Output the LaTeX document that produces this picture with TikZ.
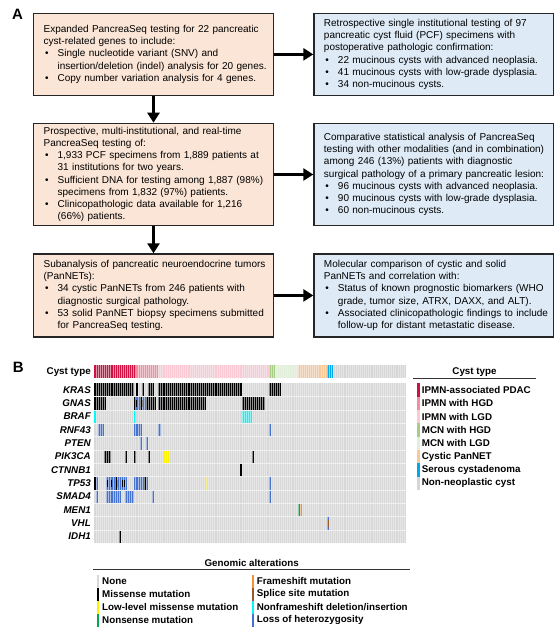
\documentclass[tikz,border=0pt]{standalone}
\usepackage{fontspec}
\setmainfont{Liberation Sans}
\usepackage{tikz}
\usetikzlibrary{arrows.meta,positioning}

\definecolor{boxorange}{RGB}{251,229,214}
\definecolor{boxblue}{RGB}{222,235,247}
\definecolor{pdac}{RGB}{206,17,65}
\definecolor{ipmnhgd}{RGB}{244,140,162}
\definecolor{ipmnlgd}{RGB}{251,202,212}
\definecolor{mcnhgd}{RGB}{166,206,134}
\definecolor{mcnlgd}{RGB}{226,239,218}
\definecolor{pannet}{RGB}{250,200,152}
\definecolor{serous}{RGB}{0,169,236}
\definecolor{nonneo}{RGB}{214,214,214}
\definecolor{cellgrey}{RGB}{216,216,216}
\definecolor{sepline}{RGB}{240,240,240}
\definecolor{lowmis}{RGB}{255,242,0}
\definecolor{nonsense}{RGB}{0,168,80}
\definecolor{frameshift}{RGB}{245,145,50}
\definecolor{splice}{RGB}{150,90,45}
\definecolor{nfs}{RGB}{0,250,250}
\definecolor{loh}{RGB}{68,114,206}

\newcommand{\bul}{\makebox[14pt][l]{\hspace{1.5pt}\textbullet}}
\newcommand{\ind}{\hspace*{14pt}}

\begin{document}
\begin{tikzpicture}[x=1pt,y=-1pt,
  pbox/.style={draw=black!85, line width=1.3pt, fill=boxorange, anchor=north west,
    text width=219.7pt, inner xsep=10pt, inner ysep=0pt, align=left,
    font=\fontsize{10}{12.2}\selectfont},
  rbox/.style={pbox, fill=boxblue},
  arr/.style={-{Triangle[length=10pt,width=12pt]}, line width=3.5pt},
  panel/.style={font=\fontsize{15}{15}\selectfont\bfseries},
  gene/.style={anchor=east, inner sep=0pt, font=\fontsize{9.8}{11}\selectfont\bfseries\itshape},
  leg/.style={anchor=west, inner sep=0pt, font=\fontsize{9.8}{11}\selectfont\bfseries},
  sep/.style={fill=sepline}]
  \useasboundingbox (0,0) rectangle (556,629);

  \node[panel] (pa) at (17.5,14.7) {A};
  \node[panel] (pb) at (18.3,367.2) {B};

  \node[pbox, minimum height=82pt] (exp) at (33,12.7) {Expanded PancreaSeq testing for 22 pancreatic\\
    cyst-related genes to include:\\
    \bul Single nucleotide variant (SNV) and\\
    \ind\mbox{insertion/deletion (indel) analysis for 20 genes.}\\
    \bul Copy number variation analysis for 4 genes.};
  \node[rbox, minimum height=82pt] (ret) at (313.3,12.7) {Retrospective single institutional testing of 97\\
    pancreatic cyst fluid (PCF) specimens with\\
    postoperative pathologic confirmation:\\
    \bul 22 mucinous cysts with advanced neoplasia.\\
    \bul 41 mucinous cysts with low-grade dysplasia.\\
    \bul 34 non-mucinous cysts.};

  \node[pbox, minimum height=102.3pt] (pro) at (33,122.7) {Prospective, multi-institutional, and real-time\\
    PancreaSeq testing of:\\
    \bul 1,933 PCF specimens from 1,889 patients at\\
    \ind 31 institutions for two years.\\
    \bul\mbox{Sufficient DNA for testing among 1,887 (98\%)}\\
    \ind specimens from 1,832 (97\%) patients.\\
    \bul Clinicopathologic data available for 1,216\\
    \ind (66\%) patients.};
  \node[rbox, minimum height=102.3pt] (cmp) at (313.3,122.7) {Comparative statistical analysis of PancreaSeq\\
    \mbox{testing with other modalities (and in combination)}\\
    among 246 (13\%) patients with diagnostic\\
    \mbox{surgical pathology of a primary pancreatic lesion:}\\
    \bul 96 mucinous cysts with advanced neoplasia.\\
    \bul 90 mucinous cysts with low-grade dysplasia.\\
    \bul 60 non-mucinous cysts.};

  \node[pbox, minimum height=83pt] (sub) at (33,253.3) {\mbox{Subanalysis of pancreatic neuroendocrine tumors}\\
    (PanNETs):\\
    \bul 34 cystic PanNETs from 246 patients with\\
    \ind diagnostic surgical pathology.\\
    \bul\mbox{53 solid PanNET biopsy specimens submitted}\\
    \ind for PancreaSeq testing.};
  \node[rbox, minimum height=83pt] (mol) at (313.3,253.3) {Molecular comparison of cystic and solid\\
    PanNETs and correlation with:\\
    \bul\mbox{Status of known prognostic biomarkers (WHO}\\
    \ind grade, tumor size, ATRX, DAXX, and ALT).\\
    \bul\mbox{Associated clinicopathologic findings to include}\\
    \ind follow-up for distant metastatic disease.};

  \draw[arr] (exp) -- (ret);
  \draw[arr] (pro) -- (cmp);
  \draw[arr] (sub) -- (mol);
  \draw[arr] (exp) -- (pro);
  \draw[arr] (pro) -- (sub);

  % oncoprint
  \node[gene, font=\fontsize{9.8}{11}\selectfont\bfseries] (ctype) at (91,371.7) {Cyst type};
  \foreach \a/\b/\col in {0/19/pdac,20/30/ipmnhgd,31/83/ipmnlgd,84/86/mcnhgd,87/97/mcnlgd,98/111/pannet,112/114/serous,115/149/nonneo}
    \fill[\col] ({94+2.08*\a},365.3) rectangle ({94+2.08*(\b+1)},378);
  \fill[cellgrey] (94,383.3) rectangle (406,543.3);
  \foreach \g [count=\r] in {KRAS,GNAS,BRAF,RNF43,PTEN,PIK3CA,CTNNB1,TP53,SMAD4,MEN1,VHL,IDH1}
    \node[gene] (g\r) at (91,{383.3+13.33*\r-6.67}) {\g};

  \foreach \r/\a/\b/\col in {2/20/21/loh,2/23/24/loh,4/2/4/loh,4/19/22/loh,4/31/31/loh,4/84/84/loh,
      5/22/22/loh,5/25/25/loh,8/1/1/loh,8/6/15/loh,8/19/25/loh,8/84/84/loh,
      9/1/1/loh,9/6/12/loh,9/15/18/loh,9/28/28/loh,9/84/84/loh,11/112/112/loh,
      1/0/18/black,1/20/20/black,1/23/23/black,1/26/28/black,1/31/70/black,1/84/89/black,
      2/0/5/black,2/19/19/black,2/22/22/black,2/25/29/black,2/31/53/black,2/71/81/black,
      6/5/7/black,6/15/15/black,6/19/19/black,6/26/26/black,6/76/76/black,7/70/70/black,
      8/0/0/black,8/10/10/black,8/24/24/black,12/12/12/black,
      3/0/0/nfs,3/19/19/nfs,3/71/75/nfs,6/33/35/lowmis,8/54/54/lowmis,
      10/98/98/nonsense,10/99/99/frameshift}
    \fill[\col] ({94+2.08*\a},{383.3+13.33*(\r-1)}) rectangle ({94+2.08*(\b+1)},{383.3+13.33*\r});
  \foreach \r/\c/\col in {2/20/black,2/23/black,8/6/black,8/8/black,8/11/black,8/13/black,8/14/black,11/112/splice}
    \fill[\col] ({94+2.08*\c+0.5},{383.3+13.33*\r-10.2}) rectangle ++(1.1,7);

  \foreach \c in {1,...,149} {
    \fill[sep, opacity=0.6] ({94+2.08*\c-0.15},365.3) rectangle ++(0.3,12.7);
    \fill[sep, opacity=0.6] ({94+2.08*\c-0.15},383.3) rectangle ++(0.3,160);
  }
  \foreach \r in {1,...,11}
    \fill[sep] (94,{383.3+13.33*\r-0.3}) rectangle (406,{383.3+13.33*\r+0.3});

  % cyst type legend
  \node[leg, anchor=center] (cttitle) at (474.5,371.7) {Cyst type};
  \draw[black!80, line width=0.9pt] (413.3,378) -- (536,378);
  \foreach \col/\txt [count=\i] in {pdac/IPMN-associated PDAC,ipmnhgd/IPMN with HGD,ipmnlgd/IPMN with LGD,
      mcnhgd/MCN with HGD,mcnlgd/MCN with LGD,pannet/Cystic PanNET,serous/Serous cystadenoma,nonneo/Non-neoplastic cyst} {
    \fill[\col] (416.7,{383.3+13.33*(\i-1)}) rectangle (419.7,{383.3+13.33*\i});
    \node[leg] (ct\i) at (421.7,{383.3+13.33*\i-6.67}) {\txt};
  }

  % genomic alterations legend
  \node[leg, anchor=center] (gatitle) at (251.7,563.3) {Genomic alterations};
  \draw[black!80, line width=0.9pt] (93.3,569) -- (410,569);
  \foreach \col/\txt [count=\i] in {cellgrey/None,black/Missense mutation,lowmis/Low-level missense mutation,nonsense/Nonsense mutation} {
    \fill[\col] (96.7,{575+12.9*(\i-1)}) rectangle (99.4,{575+12.9*\i});
    \node[leg] (ga\i) at (102,{575+12.9*\i-6.45}) {\txt};
  }
  \foreach \col/\txt [count=\i] in {frameshift/Frameshift mutation,splice/Splice site mutation,nfs/{Nonframeshift deletion/insertion},loh/Loss of heterozygosity} {
    \fill[\col] (251.7,{575+12.9*(\i-1)}) rectangle (254.4,{575+12.9*\i});
    \node[leg] (gb\i) at (256.7,{575+12.9*\i-6.45}) {\txt};
  }
\end{tikzpicture}
\end{document}
